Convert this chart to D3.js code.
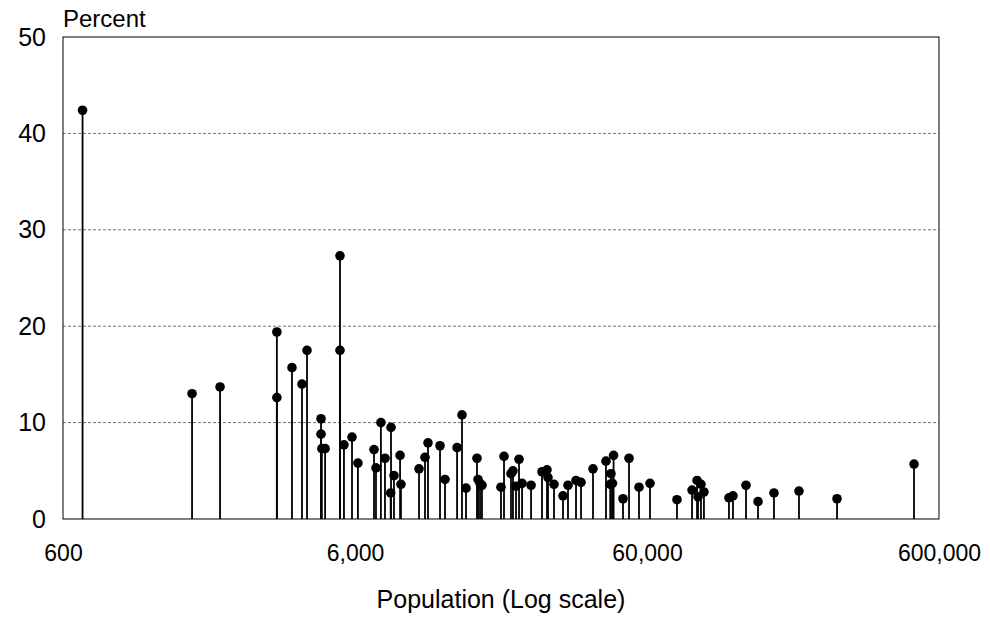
<!DOCTYPE html>
<html>
<head>
<meta charset="utf-8">
<script src="https://cdn.jsdelivr.net/npm/d3@7"></script>
<style>
  body { margin: 0; background: #fff; }
  text { font-family: "Liberation Sans", Arial, sans-serif; fill: #000; }
</style>
</head>
<body>
<div id="container"></div>
<script>
// population (x, log scale) and percent (y) for each place
const population = [700, 1660, 2070, 3240, 3240, 3650, 3950, 4110, 4590, 4590,
  4620, 4740, 5330, 5330, 5500, 5860, 6140, 6970, 7080, 7360,
  7600, 7970, 7950, 8160, 8560, 8620, 9940, 10420, 10670, 11730,
  12200, 13420, 13950, 14400, 15700, 15830, 16080, 16330, 18970, 19430,
  20530, 20850, 21360, 21870, 22400, 24050, 26220, 27270, 27490, 28820,
  30940, 32180, 34280, 35660, 39200, 43420, 46100, 45160, 44900, 45700,
  49660, 52070, 56330, 61440, 76000, 85580, 89020, 89720, 91840, 94000,
  114500, 118200, 131000, 144000, 163300, 198900, 268500, 492700];
const percent = [42.4, 13.0, 13.7, 19.4, 12.6, 15.7, 14.0, 17.5, 10.4, 8.8,
  7.3, 7.3, 27.3, 17.5, 7.7, 8.5, 5.8, 7.2, 5.3, 10.0,
  6.3, 9.5, 2.7, 4.5, 6.6, 3.6, 5.2, 6.4, 7.9, 7.6,
  4.1, 7.4, 10.8, 3.2, 6.3, 4.1, 3.7, 3.5, 3.3, 6.5,
  4.7, 5.0, 3.4, 6.2, 3.7, 3.5, 4.9, 5.1, 4.3, 3.6,
  2.4, 3.5, 4.0, 3.8, 5.2, 6.0, 6.6, 4.7, 3.6, 3.7,
  2.1, 6.3, 3.3, 3.7, 2.0, 3.0, 4.0, 2.3, 3.6, 2.8,
  2.2, 2.4, 3.5, 1.8, 2.7, 2.9, 2.1, 5.7];
const xTicks = [600, 6000, 60000, 600000];
const yTicks = [0, 10, 20, 30, 40, 50];

const dataset = population.map((p, i) => ({pop: p, pct: percent[i]}));

// dimensions
const w = 990;
const h = 621;
const plotLeft = 63, plotRight = 939, plotTop = 37, plotBottom = 519;

const xScale = d3.scaleLog()
                 .domain([600, 600000])
                 .range([plotLeft, plotRight]);
const yScale = d3.scaleLinear()
                 .domain([0, 50])
                 .range([plotBottom, plotTop]);

const svg = d3.select("#container")
              .append("svg")
              .attr("width", w)
              .attr("height", h);

// gridlines
svg.selectAll("line.grid")
   .data(yTicks.filter(d => d > 0 && d < 50))
   .enter()
   .append("line")
   .attr("class", "grid")
   .attr("x1", plotLeft)
   .attr("x2", plotRight)
   .attr("y1", d => yScale(d))
   .attr("y2", d => yScale(d))
   .attr("stroke", "#707070")
   .attr("stroke-width", 1)
   .attr("stroke-dasharray", "3,2");

// stems
svg.selectAll("line.stem")
   .data(dataset)
   .enter()
   .append("line")
   .attr("class", "stem")
   .attr("x1", d => xScale(d.pop))
   .attr("x2", d => xScale(d.pop))
   .attr("y1", yScale(0))
   .attr("y2", d => yScale(d.pct))
   .attr("stroke", "#000")
   .attr("stroke-width", 1.8);

// dots
svg.selectAll("circle")
   .data(dataset)
   .enter()
   .append("circle")
   .attr("cx", d => xScale(d.pop))
   .attr("cy", d => yScale(d.pct))
   .attr("r", 4.8)
   .attr("fill", "#000");

// plot frame
svg.append("rect")
   .attr("x", plotLeft)
   .attr("y", plotTop)
   .attr("width", plotRight - plotLeft)
   .attr("height", plotBottom - plotTop)
   .attr("fill", "none")
   .attr("stroke", "#000")
   .attr("stroke-width", 1);

// axes
const xAxis = d3.axisBottom(xScale)
                .tickValues(xTicks)
                .tickSize(0)
                .tickPadding(26)
                .tickFormat(d3.format(","));
const yAxis = d3.axisLeft(yScale)
                .tickValues(yTicks)
                .tickSize(0)
                .tickPadding(17)
                .tickFormat(d3.format("d"));

const gx = svg.append("g")
   .attr("transform", "translate(0, " + plotBottom + ")")
   .call(xAxis);
gx.select(".domain").remove();
gx.selectAll("text")
  .style("font-family", "'Liberation Sans', Arial, sans-serif")
  .style("font-size", "23px");

const gy = svg.append("g")
   .attr("transform", "translate(" + plotLeft + ", 0)")
   .call(yAxis);
gy.select(".domain").remove();
gy.selectAll("text")
  .style("font-family", "'Liberation Sans', Arial, sans-serif")
  .style("font-size", "25px");

// y-axis label
svg.append("text")
   .attr("x", 63)
   .attr("y", 27)
   .style("font-size", "24px")
   .text("Percent");

// x-axis label
svg.append("text")
   .attr("x", (plotLeft + plotRight) / 2)
   .attr("y", 608)
   .attr("text-anchor", "middle")
   .style("font-size", "25px")
   .text("Population (Log scale)");
</script>
</body>
</html>
